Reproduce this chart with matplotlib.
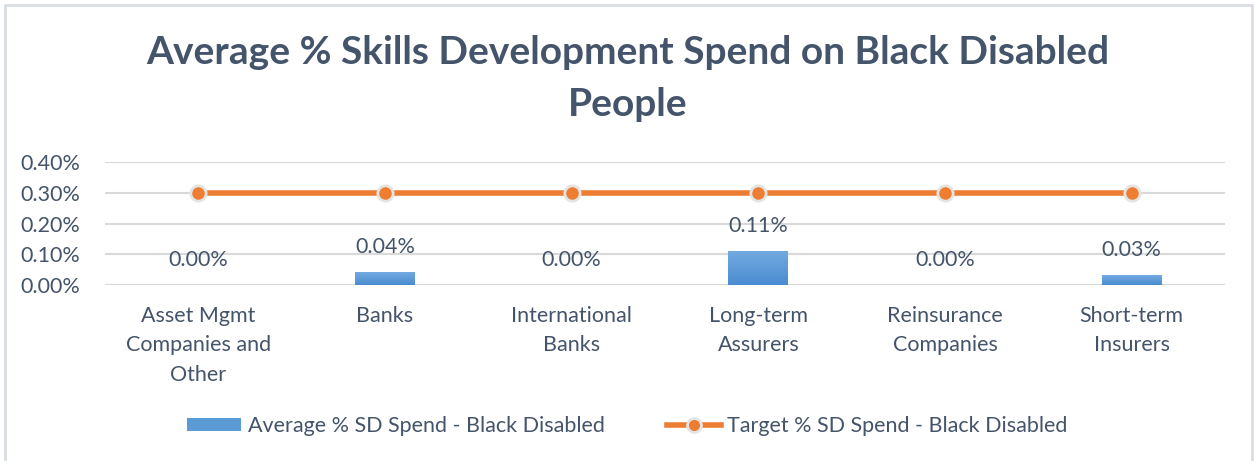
import matplotlib
matplotlib.use("Agg")
import matplotlib.pyplot as plt
import numpy as np
from matplotlib.patches import Rectangle, Patch
from matplotlib.lines import Line2D
from matplotlib.colors import LinearSegmentedColormap

categories = ["Asset Mgmt\nCompanies and\nOther", "Banks", "International\nBanks",
              "Long-term\nAssurers", "Reinsurance\nCompanies", "Short-term\nInsurers"]
average_spend = [0.00, 0.04, 0.00, 0.11, 0.00, 0.03]   # percent
target_spend = [0.30, 0.30, 0.30, 0.30, 0.30, 0.30]    # percent
yticks = [0.00, 0.10, 0.20, 0.30, 0.40]

TEXT = "#44546A"
BLUE = "#5B9BD5"
ORANGE = "#ED7D31"
GRID = "#D9D9D9"
FS = 15.5

plt.rcParams['font.family'] = ['Lato', 'DejaVu Sans']

fig = plt.figure(figsize=(12.55, 4.61), dpi=100)
fig.patches.append(Rectangle((5 / 1255, -0.01), 1247 / 1255, 1 - 5 / 461 + 0.01,
                             transform=fig.transFigure, fill=False,
                             edgecolor="#D9DEE5", linewidth=2, zorder=0))

ax = fig.add_axes([105 / 1255, 1 - 285 / 461, 1120 / 1255, 123 / 461])
x = np.arange(len(categories))

bars = ax.bar(x, average_spend, width=0.32, color=BLUE, zorder=2)
# vertical gradient on each bar
grad = np.linspace(0, 1, 64).reshape(-1, 1)
cmap = LinearSegmentedColormap.from_list("bar", ["#4A8CD0", "#72AAE0"])
for b in bars:
    h = b.get_height()
    if h <= 0:
        continue
    x0 = b.get_x()
    w = b.get_width()
    ax.imshow(grad, extent=(x0, x0 + w, 0, h), origin="lower", cmap=cmap,
              aspect="auto", zorder=2.1)

ax.plot(x, target_spend, color=ORANGE, linewidth=4, marker="o", markersize=11,
        markerfacecolor=ORANGE, markeredgecolor="#E4E4E4", markeredgewidth=2,
        zorder=3, solid_capstyle="butt")

for xi, v in zip(x, average_spend):
    ax.annotate(f"{v:.2f}%", (xi, v), xytext=(0, 11), textcoords="offset points",
                ha="center", va="bottom", fontsize=FS, color=TEXT)

ax.set_xlim(-0.5, len(categories) - 0.5)
ax.set_ylim(0, 0.40)
ax.set_yticks(yticks)
ax.set_yticklabels([f"{t:.2f}%" for t in yticks])
ax.set_xticks(x)
ax.set_xticklabels(categories, linespacing=1.6)
ax.tick_params(axis="both", length=0, labelsize=FS, labelcolor=TEXT)
ax.tick_params(axis="x", pad=15)
ax.tick_params(axis="y", pad=18)
ax.grid(axis="y", color=GRID, linewidth=1.5, zorder=0)
ax.set_axisbelow(True)
for s in ax.spines.values():
    s.set_visible(False)

fig.text(0.5, 1 - 52 / 461, "Average % Skills Development Spend on Black Disabled",
         ha="center", va="center", fontsize=28, fontweight="bold", color=TEXT)
fig.text(0.5, 1 - 104 / 461, "People",
         ha="center", va="center", fontsize=28, fontweight="bold", color=TEXT)

handles = [Patch(facecolor=BLUE, edgecolor="none"),
           Line2D([0], [0], color=ORANGE, linewidth=4, marker="o", markersize=10,
                  markerfacecolor=ORANGE, markeredgecolor="#E4E4E4", markeredgewidth=2)]
labels = ["Average % SD Spend - Black Disabled", "Target % SD Spend - Black Disabled"]
fig.legend(handles, labels, loc="center", bbox_to_anchor=(0.5, 1 - 426 / 461), ncol=2,
           frameon=False, fontsize=FS, labelcolor=TEXT, handlelength=2.5,
           handleheight=0.55, handletextpad=0.3, columnspacing=2.9)

fig.savefig("out.png", dpi=100)
